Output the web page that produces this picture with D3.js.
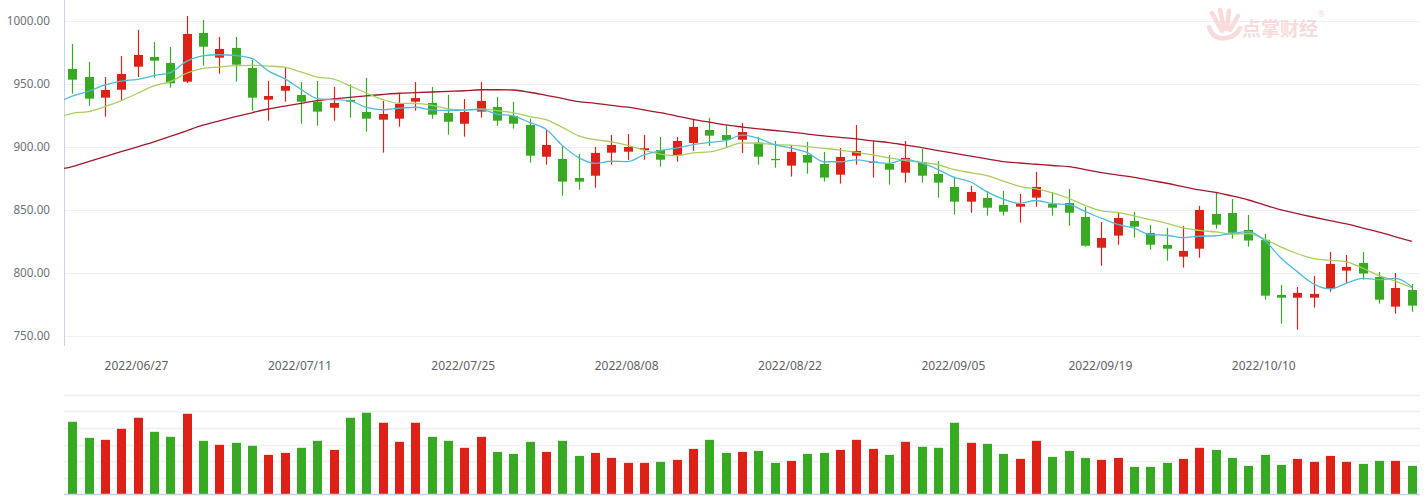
<!DOCTYPE html>
<html><head><meta charset="utf-8">
<script src="https://cdn.jsdelivr.net/npm/d3@7/dist/d3.min.js"></script>
<style>html,body{margin:0;padding:0;background:#fff;}svg{display:block;}</style>
</head><body>
<svg id="chart" width="1428" height="499"></svg>
<script>
const dates = ["2022/06/21","2022/06/22","2022/06/23","2022/06/24","2022/06/27","2022/06/28","2022/06/29","2022/06/30","2022/07/01",
"2022/07/04","2022/07/05","2022/07/06","2022/07/07","2022/07/08","2022/07/11","2022/07/12","2022/07/13","2022/07/14","2022/07/15",
"2022/07/18","2022/07/19","2022/07/20","2022/07/21","2022/07/22","2022/07/25","2022/07/26","2022/07/27","2022/07/28","2022/07/29",
"2022/08/01","2022/08/02","2022/08/03","2022/08/04","2022/08/05","2022/08/08","2022/08/09","2022/08/10","2022/08/11","2022/08/12",
"2022/08/15","2022/08/16","2022/08/17","2022/08/18","2022/08/19","2022/08/22","2022/08/23","2022/08/24","2022/08/25","2022/08/26",
"2022/08/29","2022/08/30","2022/08/31","2022/09/01","2022/09/02","2022/09/05","2022/09/06","2022/09/07","2022/09/08","2022/09/09",
"2022/09/13","2022/09/14","2022/09/15","2022/09/16","2022/09/19","2022/09/20","2022/09/21","2022/09/22","2022/09/23",
"2022/09/26","2022/09/27","2022/09/28","2022/09/29","2022/09/30","2022/10/10","2022/10/11","2022/10/12","2022/10/13","2022/10/14",
"2022/10/17","2022/10/18","2022/10/19","2022/10/20","2022/10/21"];
const openP = [961.9,955.5,939.1,945.4,963.7,971.4,966.6,951.8,990.5,970.9,978.6,962.7,937.5,944.6,941.2,935.9,931.1,937.3,927.7,921.6,
922.4,935.9,934.9,926.9,918.4,928.0,931.7,924.5,917.4,892.2,890.4,875.3,877.1,895.4,896.2,897.5,897.5,893.6,903.1,913.4,
909.4,905.7,903.4,890.4,885.1,893.6,886.4,877.9,893.0,887.5,886.4,879.5,888.0,878.5,868.2,856.5,859.4,853.9,852.5,859.7,
854.6,855.4,844.3,819.9,829.5,841.1,831.6,822.1,812.8,819.1,846.7,847.5,834.0,826.1,782.4,780.2,780.2,787.4,801.7,807.8,
796.7,773.1,786.3];
const highP = [981.7,967.4,955.5,972.2,992.9,983.3,979.3,1004.0,1000.8,987.3,987.3,969.0,952.3,963.5,951.5,952.3,947.6,949.7,954.7,936.5,
942.8,951.5,947.6,941.2,938.0,951.5,939.6,935.7,922.4,913.4,900.7,894.4,899.9,909.4,910.2,909.4,907.9,907.9,922.2,923.0,
917.4,919.0,907.9,904.7,901.5,903.9,896.0,899.1,917.4,904.7,893.6,904.7,898.3,888.8,876.4,868.9,864.9,864.9,862.6,880.1,
864.2,866.6,852.3,840.3,848.3,848.3,838.0,835.6,837.2,853.1,864.2,858.6,845.9,830.8,790.3,788.7,797.5,816.5,814.1,816.5,
800.6,799.8,791.1];
const lowP = [942.3,932.7,924.0,937.3,955.5,955.0,947.0,950.8,964.5,958.1,951.8,928.8,920.8,935.9,918.4,916.8,920.8,923.2,912.1,895.4,
916.0,928.8,922.4,909.7,908.1,923.2,916.8,914.5,887.5,885.9,861.2,866.0,867.6,885.9,889.6,889.8,884.3,888.3,896.7,900.7,
899.9,895.2,885.9,883.5,876.4,878.7,872.4,870.8,885.9,875.6,870.0,871.6,871.6,859.6,846.2,847.7,845.4,845.4,839.8,852.5,
845.4,837.4,820.7,805.6,822.3,827.9,818.3,809.6,804.1,812.0,835.0,827.1,820.7,778.6,759.6,754.8,772.3,785.0,791.4,794.5,
775.5,767.5,769.1];
const closeP = [953.4,938.3,945.2,957.9,973.0,968.5,950.5,989.7,979.6,977.8,965.3,939.1,940.4,948.4,935.9,928.0,934.9,935.9,922.4,926.1,
934.1,938.8,925.6,920.0,927.7,936.5,920.8,918.4,893.0,901.5,872.4,872.4,895.2,901.5,899.9,898.9,889.8,904.7,915.8,908.9,
905.5,911.8,892.2,889.9,896.0,887.5,875.6,892.0,896.7,888.3,881.9,891.2,877.1,871.6,856.5,864.2,851.7,848.5,854.6,868.2,
851.7,847.7,821.5,827.6,843.5,836.6,822.3,819.1,817.3,849.9,838.2,831.8,825.6,781.8,780.2,784.0,783.2,807.0,804.6,799.4,
778.6,787.9,773.9];
const volume = [87.5,68.2,65.8,79.0,92.3,75.4,69.4,97.1,64.6,59.8,62.2,58.6,47.7,50.1,56.2,64.6,53.7,92.3,98.3,86.3,
63.4,86.3,69.4,64.6,56.2,69.4,51.3,48.9,63.4,51.3,64.6,46.5,50.1,44.1,38.1,38.1,39.3,41.7,54.9,65.8,
50.1,51.3,52.5,38.1,40.5,48.9,50.1,53.7,65.8,54.9,47.7,63.4,57.4,56.2,86.3,62.2,61.0,48.9,42.9,64.6,
45.3,52.5,44.1,41.7,44.1,33.3,33.3,38.1,42.9,56.2,53.7,44.1,34.5,47.7,35.7,42.9,39.3,46.5,39.3,36.9,
40.5,40.5,34.5];
// moving averages: first value belongs to the trading day before the first candle (clipped at the axis)
const ma5 = [934.3,940.4,944.2,949.2,952.3,953.6,956.6,959.0,967.9,972.3,973.2,972.6,970.3,960.4,954.2,945.8,938.4,937.5,936.6,931.4,
929.5,930.7,931.5,929.4,928.9,929.2,929.7,926.1,924.7,919.3,914.0,901.2,891.5,886.9,888.6,888.3,893.6,897.1,899.0,901.8,
903.6,904.9,909.3,906.8,901.7,899.1,895.5,888.2,888.2,889.6,888.0,886.9,890.0,887.0,882.0,875.7,872.1,864.2,858.5,855.1,
857.4,854.9,854.1,848.7,843.3,838.4,835.4,830.3,829.8,827.8,829.0,829.4,831.3,832.6,825.5,811.5,800.7,791.0,787.2,791.8,
795.6,794.6,795.5,788.9];
const ma10 = [922.4,926.7,928.0,931.9,936.7,942.6,948.4,951.8,958.5,962.4,963.4,964.6,964.7,964.2,963.3,959.5,955.5,953.9,948.5,942.8,
937.7,934.6,934.5,933.0,930.2,929.4,930.2,928.8,927.1,924.1,921.6,915.5,908.8,905.8,904.0,901.2,897.4,894.3,893.0,895.2,
896.0,899.3,903.2,902.9,901.8,901.4,900.2,898.8,897.5,895.7,893.6,891.2,889.1,887.6,885.8,881.9,879.5,877.1,872.8,868.6,
866.6,863.5,859.2,853.6,849.2,847.9,845.2,842.2,839.3,835.6,833.7,832.4,830.8,831.2,826.7,820.3,815.1,811.2,809.9,808.7,
803.6,797.7,793.3,788.1];
const ma60 = [881.5,884.4,888.3,892.2,896.2,900.1,904.0,908.3,912.8,917.2,920.7,924.0,927.1,930.1,932.4,934.6,936.7,938.1,939.4,940.5,
941.6,942.6,943.1,943.6,944.1,944.6,945.4,945.4,945.2,943.4,941.0,938.5,936.0,934.6,933.0,931.5,929.4,927.2,924.5,921.9,
919.6,917.4,915.8,914.3,913.0,911.8,910.2,908.7,907.5,906.3,904.8,903.4,901.4,899.4,897.1,894.9,892.7,890.5,888.3,887.2,
886.2,885.2,884.3,882.0,879.5,877.6,875.8,873.4,871.1,868.4,865.8,863.9,861.0,857.8,853.8,849.9,847.0,844.1,841.4,838.8,
835.5,832.2,828.6,825.0];
const priceTicks = [750,800,850,900,950,1000];
const dateTicks = ["2022/06/27","2022/07/11","2022/07/25","2022/08/08","2022/08/22","2022/09/05","2022/09/19","2022/10/10"];

const RED = "#dd2116", GREEN = "#38a922";
const svg = d3.select("#chart");
const left = 64, right = 1420;
const x = d3.scaleBand().domain(dates).range([left, right]).paddingInner(0).paddingOuter(0);
const step = x.step();
const bodyW = 9;
const cx = i => i < 0 ? x(dates[0]) + step / 2 + i * step : x(dates[i]) + step / 2;
const y = d3.scaleLinear().domain([750, 1000]).range([335.7, 21]);
const yv = d3.scaleLinear().domain([0, 120]).range([494.6, 394.7]);

// grid (price)
svg.append("g").selectAll("line").data(priceTicks).join("line")
  .attr("x1", left).attr("x2", right).attr("y1", d => Math.round(y(d)) + 0.5).attr("y2", d => Math.round(y(d)) + 0.5)
  .attr("stroke", "#eef0f4").attr("stroke-width", 1);
// grid (volume)
svg.append("g").selectAll("line").data(yv.ticks(6).filter(d => d > 0)).join("line")
  .attr("x1", left).attr("x2", right).attr("y1", d => Math.round(yv(d)) + 0.5).attr("y2", d => Math.round(yv(d)) + 0.5)
  .attr("stroke", "#eef0f4").attr("stroke-width", 1.5);

// watermark
const wm = svg.append("g").attr("opacity", 0.75);
const pink = "#f6d0d0";
[[1222,31,1212,13],[1224,29,1220,10],[1227,29,1229,11],[1230,30,1238,16]].forEach(p => {
  wm.append("line").attr("x1", p[0]).attr("y1", p[1]).attr("x2", p[2]).attr("y2", p[3])
    .attr("stroke", pink).attr("stroke-width", 4.5).attr("stroke-linecap", "round");
});
wm.append("path").attr("d", "M1209,27 Q1213,40 1226,38 Q1236,37 1240,28")
  .attr("fill", "none").attr("stroke", pink).attr("stroke-width", 4.5).attr("stroke-linecap", "round");
wm.append("text").attr("x", 1242).attr("y", 36).text("点掌财经")
  .attr("font-family", "Noto Sans CJK SC").attr("font-weight", "bold").attr("font-size", 19).attr("fill", pink);
wm.append("text").attr("x", 1318).attr("y", 17).text("®")
  .attr("font-family", "Noto Sans").attr("font-size", 8).attr("fill", pink);

// y axis
const yAxis = d3.axisLeft(y).tickValues(priceTicks).tickFormat(d3.format(".2f")).tickSize(0).tickPadding(14);
const ga = svg.append("g").attr("transform", `translate(${left},0)`).call(yAxis);
ga.select(".domain").remove();
ga.selectAll("text").attr("font-family", "Noto Sans").attr("font-size", 11.7).attr("fill", "#6e7079");
svg.append("line").attr("x1", left + 0.5).attr("x2", left + 0.5).attr("y1", 0).attr("y2", 346)
  .attr("stroke", "#c6d2e6").attr("stroke-width", 1);

// x axis labels
const xAxis = d3.axisBottom(x).tickValues(dateTicks).tickSize(0).tickPadding(0);
const gx = svg.append("g").attr("transform", "translate(-1,361)").call(xAxis);
gx.select(".domain").remove();
gx.selectAll("text").attr("font-family", "Noto Sans").attr("font-size", 12).attr("fill", "#606266");

// candles
const idx = d3.range(dates.length);
const cg = svg.append("g");
const col = i => closeP[i] >= openP[i] ? RED : GREEN;
cg.selectAll("line.w").data(idx).join("line").attr("class", "w")
  .attr("x1", i => Math.round(cx(i)) + 0.5).attr("x2", i => Math.round(cx(i)) + 0.5)
  .attr("y1", i => y(highP[i])).attr("y2", i => y(lowP[i]))
  .attr("stroke", col).attr("stroke-width", 1.2);
cg.selectAll("rect").data(idx).join("rect")
  .attr("x", i => Math.round(cx(i)) + 0.5 - bodyW / 2).attr("width", bodyW)
  .attr("y", i => y(Math.max(openP[i], closeP[i])))
  .attr("height", i => Math.max(1.2, Math.abs(y(openP[i]) - y(closeP[i]))))
  .attr("fill", col);

// MA lines
const clip = svg.append("clipPath").attr("id", "plot").append("rect")
  .attr("x", left).attr("y", 0).attr("width", right - left).attr("height", 346);
const line = d3.line().x((d, k) => cx(k - 1)).y(d => y(d)).curve(d3.curveMonotoneX);
const lg = svg.append("g").attr("clip-path", "url(#plot)");
[[ma60, "#a3192b"], [ma10, "#a8cf5e"], [ma5, "#4fbbdc"]].forEach(([arr, c]) => {
  lg.append("path").attr("d", line(arr)).attr("fill", "none").attr("stroke", c).attr("stroke-width", 1.3);
});

// volume
svg.append("g").selectAll("rect").data(idx).join("rect")
  .attr("x", i => Math.round(cx(i)) + 0.5 - bodyW / 2).attr("width", bodyW)
  .attr("y", i => yv(volume[i])).attr("height", i => yv(0) - yv(volume[i]))
  .attr("fill", col);
svg.append("line").attr("x1", left).attr("x2", right).attr("y1", 494.5).attr("y2", 494.5)
  .attr("stroke", "#c6d2e6").attr("stroke-width", 1.5);
</script>
</body></html>
